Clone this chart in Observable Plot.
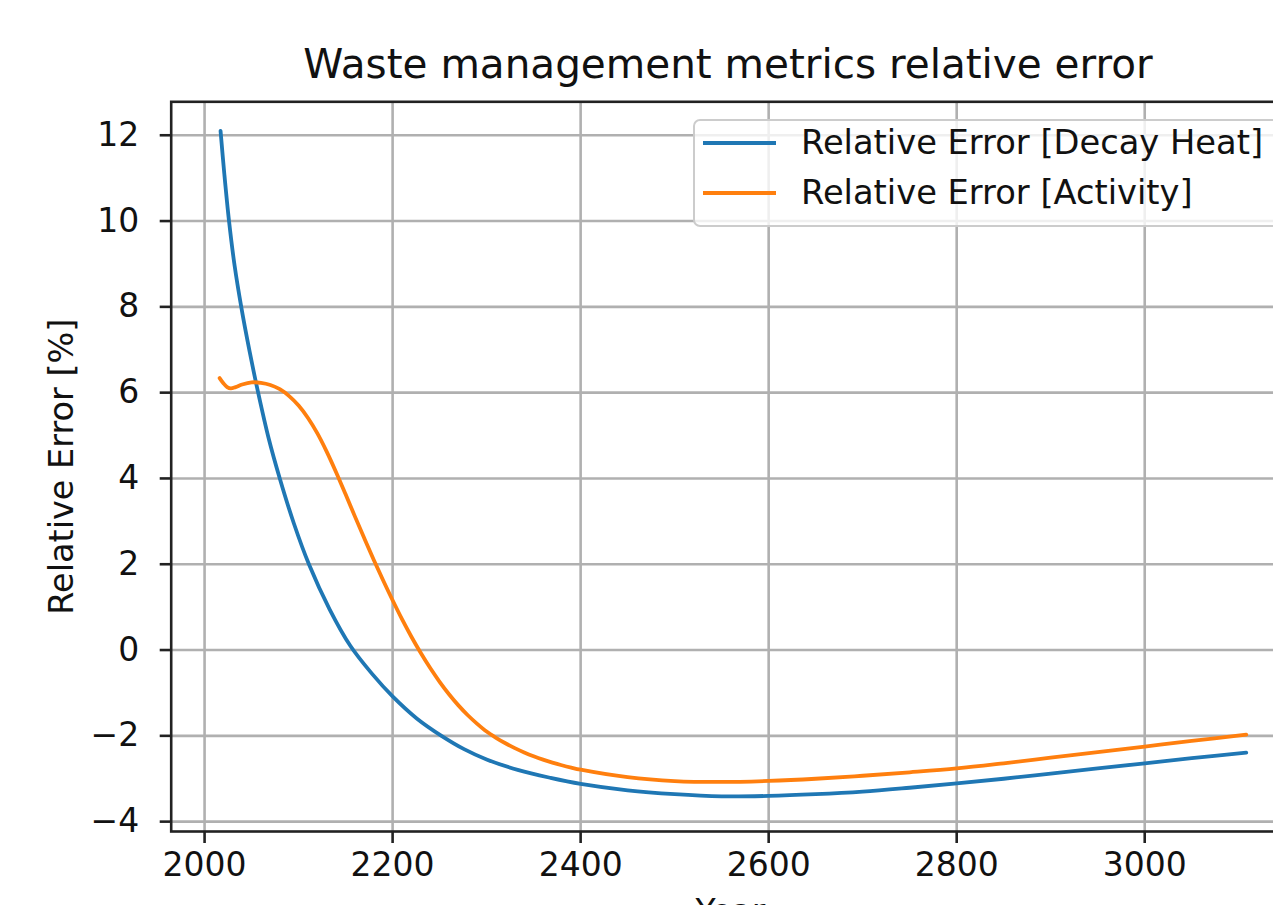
<!DOCTYPE html>
<html>
<head>
<meta charset="utf-8">
<script src="https://cdn.jsdelivr.net/npm/d3@7"></script>
<script src="https://cdn.jsdelivr.net/npm/@observablehq/plot@0.6"></script>
<style>
  html, body { margin: 0; padding: 0; overflow: hidden; background: #fff; }
  #wrap { position: relative; width: 1292px; height: 905px; font-family: "DejaVu Sans", sans-serif; color: #111; }
  #title { position: absolute; left: 0; top: 44px; width: 1456px; text-align: center; font-size: 40.5px; line-height: 40px; white-space: nowrap; }
  #chart { position: absolute; left: 0; top: 90px; }
  #legend { position: absolute; left: 693px; top: 119px; width: 640px; height: 108px; box-sizing: border-box;
            border: 2px solid #cccccc; border-radius: 7px; background: rgba(255,255,255,0.8); }
  .sw { position: absolute; left: 8px; width: 73px; height: 4px; }
  .lt { position: absolute; left: 106px; font-size: 33.7px; line-height: 40px; white-space: nowrap; }
</style>
</head>
<body>
<div id="wrap">
  <div id="title"></div>
  <div id="chart"></div>
  <div id="legend"></div>
</div>
<script>
const titleText = "Waste management metrics relative error";
const yLabel = "Relative Error [%]";
const xLabel = "Year";
const seriesNames = ["Relative Error [Decay Heat]", "Relative Error [Activity]"];
const seriesColors = ["#1f77b4", "#ff7f0e"];
const xTicks = [2000, 2200, 2400, 2600, 2800, 3000];
const yTicks = [-4, -2, 0, 2, 4, 6, 8, 10, 12];

// Decay heat relative error
const heatYears = [2017, 2021, 2026, 2032, 2039, 2048, 2057, 2068, 2080, 2095, 2111, 2133, 2155, 2178, 2200, 2226, 2252, 2276, 2300, 2334, 2368, 2400, 2450, 2500, 2550, 2600, 2650, 2700, 2750, 2800, 2850, 2900, 2950, 3000, 3050, 3108];
const heatErr   = [12.1, 11.1, 10.0, 8.95, 8.0, 6.95, 6.0, 4.95, 4.0, 2.95, 2.0, 0.95, 0.10, -0.55, -1.08, -1.6, -2.0, -2.31, -2.55, -2.80, -2.98, -3.12, -3.27, -3.36, -3.41, -3.40, -3.36, -3.30, -3.21, -3.11, -3.00, -2.88, -2.76, -2.64, -2.52, -2.39];

// Activity relative error
const actYears = [2016, 2020, 2024, 2028, 2033, 2040, 2050, 2060, 2070, 2080, 2090, 2100, 2110, 2120, 2130, 2140, 2150, 2160, 2170, 2180, 2190, 2200, 2210, 2220, 2230, 2240, 2250, 2260, 2270, 2280, 2290, 2300, 2310, 2320, 2330, 2340, 2350, 2360, 2370, 2380, 2390, 2400, 2450, 2500, 2550, 2600, 2650, 2700, 2750, 2800, 2850, 2900, 2950, 3000, 3050, 3108];
const actErr   = [6.34, 6.22, 6.13, 6.10, 6.13, 6.19, 6.24, 6.23, 6.18, 6.08, 5.92, 5.70, 5.41, 5.05, 4.62, 4.14, 3.63, 3.11, 2.60, 2.10, 1.62, 1.16, 0.72, 0.31, -0.07, -0.42, -0.74, -1.03, -1.29, -1.52, -1.72, -1.90, -2.045, -2.173, -2.286, -2.386, -2.475, -2.554, -2.624, -2.686, -2.741, -2.79, -2.965, -3.055, -3.075, -3.05, -3.00, -2.93, -2.85, -2.76, -2.64, -2.51, -2.38, -2.25, -2.12, -1.97];

const heatData = heatYears.map((x, i) => ({year: x, value: heatErr[i]}));
const actData = actYears.map((x, i) => ({year: x, value: actErr[i]}));

const fmt = d => d < 0 ? "\u2212" + Math.abs(d) : String(d);
const gridStyle = {stroke: "#b0b0b0", strokeOpacity: 1, strokeWidth: 2.6};
const ink = "#222";

document.getElementById("title").textContent = titleText;

const chart = Plot.plot({
  width: 1292,
  height: 815,
  marginLeft: 170.7,
  marginRight: 3,
  marginTop: 11.3,
  marginBottom: 74,
  style: {fontFamily: "'DejaVu Sans', sans-serif", fontSize: "33px", color: "#111", background: "transparent", overflow: "visible"},
  x: {domain: [1964.5, 3154], label: null},
  y: {domain: [-4.23, 12.78], label: null},
  marks: [
    Plot.gridX(xTicks, gridStyle),
    Plot.gridY(yTicks, gridStyle),
    Plot.line(heatData, {x: "year", y: "value", stroke: seriesColors[0], strokeWidth: 3.8, curve: "catmull-rom"}),
    Plot.line(actData, {x: "year", y: "value", stroke: seriesColors[1], strokeWidth: 3.8, curve: "catmull-rom"}),
    Plot.frame({stroke: ink, strokeWidth: 2.6}),
    Plot.axisX(xTicks, {tickSize: 12, tickPadding: 9, tickFormat: fmt, stroke: ink, strokeWidth: 2.6, label: null, fill: "#111"}),
    Plot.axisY(yTicks, {tickSize: 11, tickPadding: 21, tickFormat: fmt, stroke: ink, strokeWidth: 2.6, label: null, fill: "#111"}),
    Plot.text([yLabel], {text: d => d, frameAnchor: "left", rotate: -90, dx: -108.7, textAnchor: "middle", lineAnchor: "middle", fill: "#111", fontSize: 33.5}),
    Plot.text([xLabel], {text: d => d, frameAnchor: "bottom", dy: 68, lineAnchor: "top", textAnchor: "middle", fill: "#111"})
  ]
});
document.getElementById("chart").appendChild(chart);

const legend = document.getElementById("legend");
seriesNames.forEach((name, i) => {
  const sw = document.createElement("div");
  sw.className = "sw";
  sw.style.top = (20 + i * 50) + "px";
  sw.style.background = seriesColors[i];
  legend.appendChild(sw);
  const t = document.createElement("div");
  t.className = "lt";
  t.style.top = (2 + i * 50) + "px";
  t.textContent = name;
  legend.appendChild(t);
});
</script>
</body>
</html>
